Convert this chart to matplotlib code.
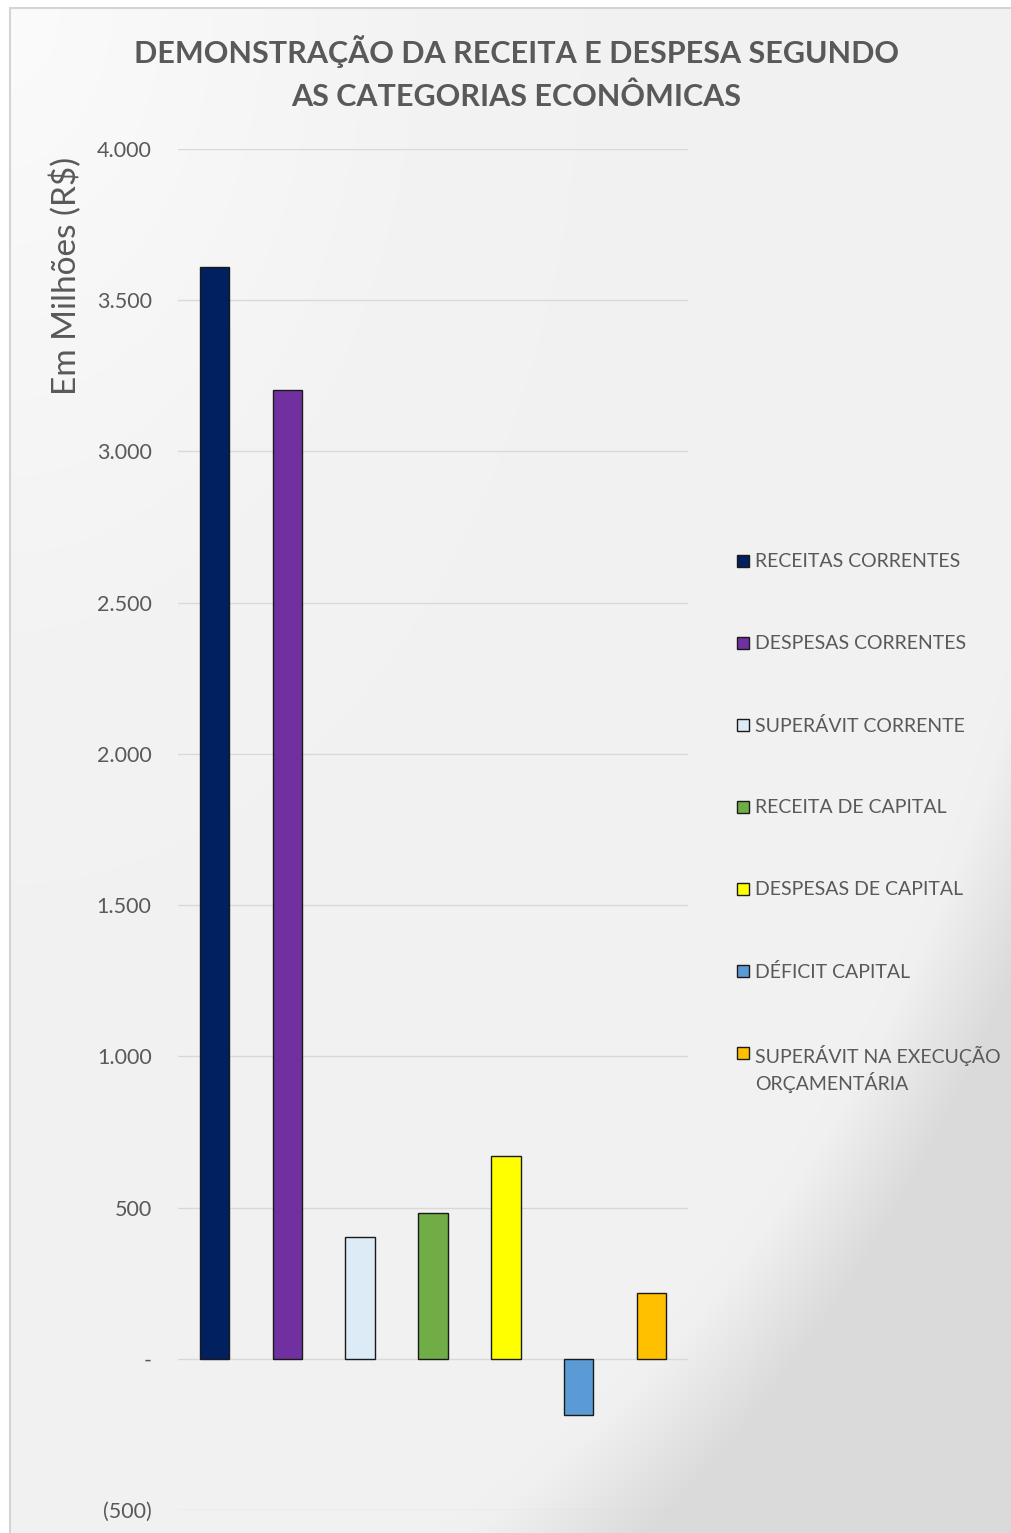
import matplotlib.pyplot as plt
import numpy as np
from matplotlib.patches import Rectangle
from matplotlib.ticker import FuncFormatter, MultipleLocator

# values in R$ millions
series = [
    "RECEITAS CORRENTES",
    "DESPESAS CORRENTES",
    "SUPERÁVIT CORRENTE",
    "RECEITA DE CAPITAL",
    "DESPESAS DE CAPITAL",
    "DÉFICIT CAPITAL",
    "SUPERÁVIT NA EXECUÇÃO\nORÇAMENTÁRIA",
]
values = [3611, 3204, 403, 483, 671, -185, 218]
colors = ["#002060", "#7030A0", "#DDEBF7", "#70AD47", "#FFFF00", "#5B9BD5", "#FFC000"]

title = "DEMONSTRAÇÃO DA RECEITA E DESPESA SEGUNDO\nAS CATEGORIAS ECONÔMICAS"
ylabel = "Em Milhões (R$)"

W, H = 1011, 1533
txt = "#595959"
plt.rcParams["font.family"] = ["Lato", "DejaVu Sans"]

fig = plt.figure(figsize=(W / 100, H / 100), dpi=100)
fig.patch.set_facecolor("white")

# chart background: light gradient with a darker bottom-right corner
fx0, fy0 = 10 / W, 8 / H
bg = fig.add_axes([fx0, 0, 1 - fx0, 1 - fy0], zorder=-5)
u = np.linspace(fx0, 1, 400)[None, :]
v = np.linspace(fy0, 1, 600)[:, None]
r = np.sqrt(u ** 2 + v ** 2)
light = np.interp(r, [0.0, 0.45, 1.10, 1.19, 2.0], [0.985, 0.95, 0.945, 0.855, 0.855])
bg.imshow(np.dstack([light] * 3), aspect="auto", extent=[0, 1, 0, 1], origin="upper")
bg.set_axis_off()
fig.add_artist(Rectangle((fx0, -0.1), 1.2, 1 - fy0 + 0.1, transform=fig.transFigure,
                         fill=False, edgecolor="#d4d4d4", linewidth=1.5, zorder=10))

ax = fig.add_axes([178 / W, 1 - 1510 / H, (688 - 178) / W, (1510 - 149) / H])
ax.set_facecolor("none")
x = np.arange(len(values))
ax.bar(x, values, width=0.405, color=colors, edgecolor="#1a1a1a", linewidth=1.0, zorder=3)
ax.set_xlim(-0.5, len(values) - 0.5)
ax.set_ylim(-500, 4000)
ax.yaxis.set_major_locator(MultipleLocator(500))


def fmt(val, pos):
    if abs(val) < 1e-9:
        return "-"
    s = f"{abs(val):,.0f}".replace(",", ".")
    return f"({s})" if val < 0 else s


ax.yaxis.set_major_formatter(FuncFormatter(fmt))
ax.grid(axis="y", color="#d9d9d9", linewidth=1.0, zorder=0)
ax.set_xticks([])
ax.tick_params(axis="y", length=0, pad=19, labelsize=15.5, labelcolor=txt)
for s in ax.spines.values():
    s.set_visible(False)

fig.text(516 / W, 1 - 73 / H, title, ha="center", va="center", fontsize=22,
         fontweight="bold", color=txt, linespacing=1.6)
fig.text(66 / W, 1 - 276 / H, ylabel, rotation=90, ha="center", va="center",
         fontsize=24, color=txt)

# legend, one entry every 82 px
for i, (name, col) in enumerate(zip(series, colors)):
    yc = 561 + 82 * i
    fig.add_artist(Rectangle((737 / W, 1 - (yc + 6) / H), 12 / W, 12 / H,
                             transform=fig.transFigure, facecolor=col,
                             edgecolor="#1a1a1a", linewidth=1.0))
    fig.text(755 / W, 1 - (yc - 8) / H, name, ha="left", va="top", fontsize=14,
             color=txt, linespacing=1.35)

fig.savefig("out.png", dpi=100)
